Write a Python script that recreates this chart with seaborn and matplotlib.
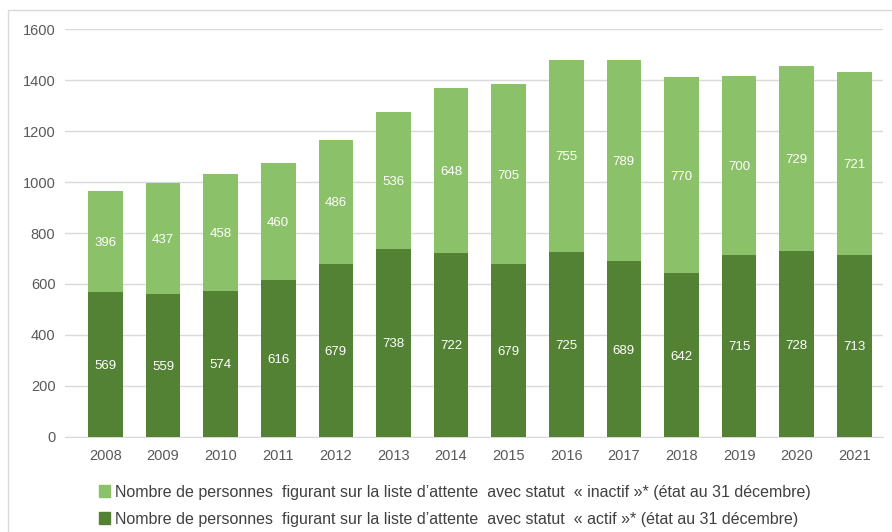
import pandas as pd
import matplotlib.pyplot as plt
import seaborn as sns
from matplotlib.patches import Patch

years = ['2008', '2009', '2010', '2011', '2012', '2013', '2014',
         '2015', '2016', '2017', '2018', '2019', '2020', '2021']
actif = [569, 559, 574, 616, 679, 738, 722, 679, 725, 689, 642, 715, 728, 713]
inactif = [396, 437, 458, 460, 486, 536, 648, 705, 755, 789, 770, 700, 729, 721]

light = '#8bc168'
dark = '#548235'

df = pd.DataFrame({'Année': years, 'actif': actif, 'inactif': inactif})
df['total'] = df['actif'] + df['inactif']

sns.set_style('white')
plt.rcParams['font.family'] = ['Liberation Sans', 'DejaVu Sans']

fig = plt.figure(figsize=(8.92, 5.32), dpi=100)
ax = fig.add_axes([0.073, 0.179, 0.917, 0.766])

sns.barplot(x='Année', y='total', data=df, color=light, width=0.6,
            saturation=1, linewidth=0, ax=ax, zorder=2)
sns.barplot(x='Année', y='actif', data=df, color=dark, width=0.6,
            saturation=1, linewidth=0, ax=ax, zorder=3)

for i, row in df.iterrows():
    ax.text(i, row['actif'] / 2, str(row['actif']), ha='center',
            va='center_baseline', color='white', fontsize=9.5, zorder=4)
    ax.text(i, row['actif'] + row['inactif'] / 2, str(row['inactif']),
            ha='center', va='center_baseline', color='white', fontsize=9.5,
            zorder=4)

ax.set_ylim(0, 1600)
ax.set_yticks(range(0, 1601, 200))
ax.set_xlim(-0.7, 13.5)
ax.yaxis.grid(True, color='#d9d9d9', linewidth=1, zorder=0)
ax.set_axisbelow(True)
for s in ['top', 'right', 'left']:
    ax.spines[s].set_visible(False)
ax.spines['bottom'].set_color('#d9d9d9')
ax.tick_params(axis='both', length=0, labelsize=10.5, colors='#595959')
ax.tick_params(axis='x', pad=9)
ax.tick_params(axis='y', pad=7)
ax.set_xlabel('')
ax.set_ylabel('')

handles = [
    Patch(color=light, label='Nombre de personnes  figurant sur la liste d’attente  avec statut  « inactif »* (état au 31 décembre)'),
    Patch(color=dark, label='Nombre de personnes  figurant sur la liste d’attente  avec statut  « actif »* (état au 31 décembre)'),
]
fig.legend(handles=handles, loc='upper left', bbox_to_anchor=(0.111, 0.089),
           frameon=False, fontsize=11.5, labelcolor='#404040',
           handlelength=0.7, handleheight=0.7, handletextpad=0.3,
           labelspacing=0.75, borderaxespad=0, borderpad=0)

# cadre gris clair (coupé à droite et en bas comme sur l'image d'origine)
fig.patches.append(plt.Rectangle((8 / 892, -0.05), 1.05, 1.05 - 10 / 532,
                                 transform=fig.transFigure, fill=False,
                                 edgecolor='#d9d9d9', linewidth=1))

fig.savefig('out.png', dpi=100)
